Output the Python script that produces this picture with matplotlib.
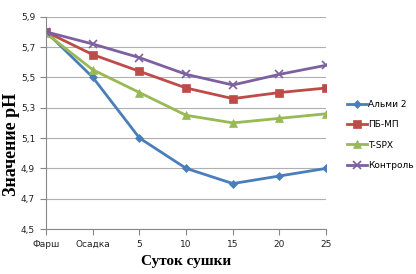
import numpy as np
import matplotlib
matplotlib.use("Agg")
import matplotlib.pyplot as plt
from matplotlib.ticker import FuncFormatter

# Data
categories = ['Фарш', 'Осадка', '5', '10', '15', '20', '25']
almi2 = [5.80, 5.50, 5.10, 4.90, 4.80, 4.85, 4.90]
pb_mp = [5.80, 5.65, 5.54, 5.43, 5.36, 5.40, 5.43]
t_spx = [5.79, 5.55, 5.40, 5.25, 5.20, 5.23, 5.26]
kontrol = [5.80, 5.72, 5.63, 5.52, 5.45, 5.52, 5.58]
series_names = ['Альми 2', 'ПБ-МП', 'T-SPX', 'Контроль']
y_ticks = [4.5, 4.7, 4.9, 5.1, 5.3, 5.5, 5.7, 5.9]

colors = ['#4A7EBB', '#BE4B48', '#98B954', '#7D60A0']
markers = ['D', 's', '^', 'x']
sizes = [4.5, 5.5, 5.5, 6]

fig = plt.figure(figsize=(4.16, 2.74), dpi=100)
ax = fig.add_axes([0.111, 0.164, 0.673, 0.775])

x = np.arange(len(categories))
for vals, name, c, m, s in zip([almi2, pb_mp, t_spx, kontrol], series_names, colors, markers, sizes):
    ax.plot(x, vals, color=c, marker=m, markersize=s, linewidth=2, label=name,
            markeredgewidth=1.2 if m == 'x' else 0.5)

ax.set_xlim(0, len(categories) - 1)
ax.set_ylim(4.5, 5.9)
ax.set_xticks(x)
ax.set_xticklabels(categories)
ax.set_yticks(y_ticks)
ax.yaxis.set_major_formatter(FuncFormatter(lambda v, p: f"{v:.1f}".replace('.', ',')))
ax.grid(axis='y', color='#B0B0B0', linewidth=0.8)
ax.set_axisbelow(True)

for side in ['top', 'right']:
    ax.spines[side].set_visible(False)
for side in ['left', 'bottom']:
    ax.spines[side].set_color('#888888')
ax.tick_params(axis='both', direction='out', length=4, color='#888888',
               labelsize=6.5, labelcolor='#222222', pad=4)

ax.set_ylabel('Значение pH', fontsize=13, fontweight='bold', family='Liberation Serif')
ax.yaxis.set_label_coords(-0.095, 0.40)
ax.set_xlabel('Суток сушки', fontsize=11, fontweight='bold', family='Liberation Serif', labelpad=4)

leg = ax.legend(loc='center left', bbox_to_anchor=(1.045, 0.443), frameon=False,
                fontsize=6.5, labelspacing=1.25, handlelength=2.2, handletextpad=0.1)

fig.savefig('out.png', dpi=100)
